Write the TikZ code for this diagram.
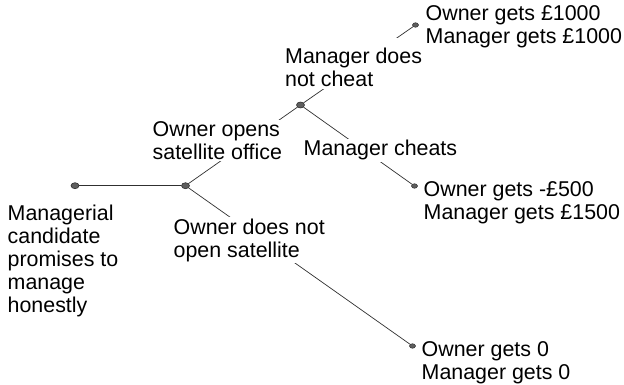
\documentclass[tikz,border=0pt]{standalone}
\usepackage{fontspec}
\setmainfont{Liberation Sans}
\usetikzlibrary{shapes.geometric}
\definecolor{dotfill}{HTML}{5E5E5E}
\definecolor{linecol}{HTML}{303030}
\tikzset{
  bigdot/.style={ellipse,draw=linecol,fill=dotfill,line width=0.6pt,minimum width=8pt,minimum height=6pt,inner sep=0pt},
  enddot/.style={ellipse,draw=linecol,fill=dotfill,line width=0.5pt,minimum width=6pt,minimum height=4.6pt,inner sep=0pt},
  edge/.style={draw=linecol,line width=0.7pt},
  lbl/.style={anchor=base west,align=left,fill=white,inner sep=1.5pt,font=\fontsize{21.4}{23}\selectfont,text=black}
}
\begin{document}
\begin{tikzpicture}[x=1pt,y=-1pt]
\useasboundingbox (0,0) rectangle (624,385);
% decision points
\node[bigdot] (root) at (75,185.7) {};
\node[bigdot] (own) at (185.5,185.7) {};
\node[bigdot] (mgr) at (300.5,105) {};
\node[enddot] (e1) at (415.5,25) {};
\node[enddot] (e2) at (414.5,186) {};
\node[enddot] (e3) at (412.5,346) {};
% branches
\draw[edge] (root) -- (own);
\draw[edge] (own) -- (mgr);
\draw[edge] (own) -- (e3);
\draw[edge] (mgr) -- (e1);
\draw[edge] (mgr) -- (e2);
% labels (anchored at the baseline of the last line)
\node[lbl] (t1) at (424,43.7) {Owner gets £1000\\Manager gets £1000};
\node[lbl] (mdnc) at (283.5,87) {\rule{0pt}{24pt}Manager does\\not cheat};
\node[lbl] (oo) at (151,159.7) {Owner opens\\satellite office};
\node[lbl] (mc) at (302,156) {Manager cheats};
\node[lbl] (t2) at (422,219.7) {Owner gets -£500\\Manager gets £1500};
\node[lbl] (cand) at (6,312) {Managerial\\candidate\\promises to\\manage\\honestly};
\node[lbl] (odno) at (172,257) {Owner does not\\open satellite};
\node[lbl] (t3) at (420,379) {Owner gets 0\\Manager gets 0};
\end{tikzpicture}
\end{document}
